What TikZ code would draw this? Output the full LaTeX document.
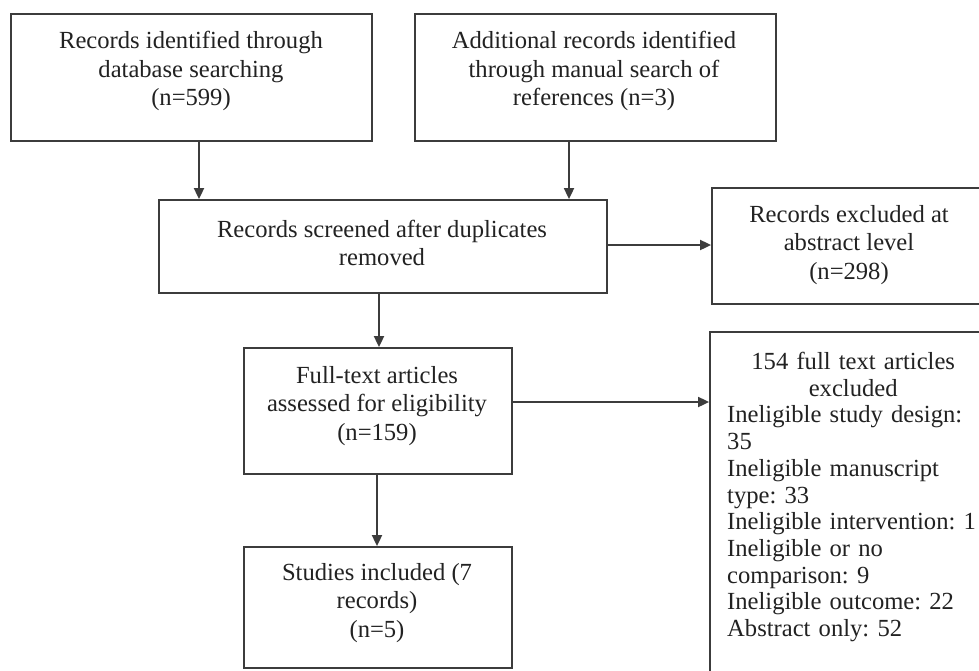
\documentclass[tikz,border=0pt]{standalone}
\usepackage{fontspec}
\setmainfont{Liberation Serif}
\usetikzlibrary{arrows.meta}
\definecolor{linegray}{HTML}{3C3C3C}
\definecolor{textdark}{HTML}{222222}
\frenchspacing
\begin{document}
\begin{tikzpicture}[x=1pt,y=-1pt,
  box/.style={draw=linegray, line width=1.8pt, inner sep=0pt, fill=white},
  txt/.style={align=center, font=\fontsize{24.6}{28.3}\selectfont, text=textdark, inner sep=0pt},
  listtxt/.style={text width=252pt, font=\fontsize{24.6}{26.7}\selectfont, text=textdark, inner sep=0pt},
  arr/.style={draw=linegray, line width=1.8pt, -{Triangle[length=11pt,width=10pt]}}]
\useasboundingbox (0,0) rectangle (979,670);
\fill[white] (0,0) rectangle (979,670);

\node[box, minimum width=361pt, minimum height=127pt] (b1) at (191.5,77.5) {};
\node[box, minimum width=361pt, minimum height=127pt] (b2) at (595.5,77.5) {};
\node[box, minimum width=448pt, minimum height=93pt] (b3) at (383,246.5) {};
\node[box, minimum width=276pt, minimum height=116pt] (b4) at (850,246) {};
\node[box, minimum width=268pt, minimum height=126pt] (b5) at (378,411) {};
\node[box, minimum width=278pt, minimum height=348pt] (b6) at (849,506) {};
\node[box, minimum width=268pt, minimum height=121pt] (b7) at (378,607.5) {};

\node[txt] (t1) at (191,71) {Records identified through\\database searching\\(n=599)};
\node[txt] (t2) at (594,71) {Additional records identified\\through manual search of\\references (n=3)};
\node[txt] (t3) at (382,243) {Records screened after duplicates\\removed};
\node[txt] (t4) at (849,245) {Records excluded at\\abstract level\\(n=298)};
\node[txt] (t5) at (377,406) {Full-text articles\\assessed for eligibility\\(n=159)};
\node[txt] (t7) at (377,603) {Studies included (7\\records)\\(n=5)};
\node[listtxt, anchor=north west] (t6) at (727,352) {{\centering 154 full text articles\\excluded\par}\raggedright Ineligible study design:\\35\\Ineligible manuscript\\type: 33\\Ineligible intervention: 1\\Ineligible or no\\comparison: 9\\Ineligible outcome: 22\\Abstract only: 52};

\coordinate (x1) at (199,0);
\coordinate (x2) at (569,0);
\coordinate (x3) at (379,0);
\coordinate (x5) at (377,0);
\coordinate (y3) at (0,245);
\coordinate (y5) at (0,402);

\draw[arr] (b1.south -| x1) -- (b3.north -| x1);
\draw[arr] (b2.south -| x2) -- (b3.north -| x2);
\draw[arr] (b3.east |- y3) -- (b4.west |- y3);
\draw[arr] (b3.south -| x3) -- (b5.north -| x3);
\draw[arr] (b5.east |- y5) -- (b6.west |- y5);
\draw[arr] (b5.south -| x5) -- (b7.north -| x5);
\end{tikzpicture}
\end{document}
